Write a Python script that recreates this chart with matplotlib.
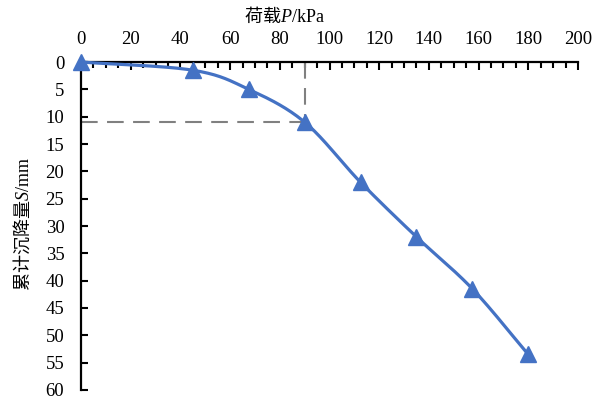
import numpy as np
import matplotlib
matplotlib.use("Agg")
import matplotlib.pyplot as plt
from matplotlib.ticker import MultipleLocator

plt.rcParams['font.family'] = ['Liberation Serif', 'Noto Sans CJK SC']
# mathtext: italic symbol and unit in the serif face
plt.rcParams['mathtext.fontset'] = 'custom'
plt.rcParams['mathtext.rm'] = 'Liberation Serif'
plt.rcParams['mathtext.it'] = 'Liberation Serif:italic'
plt.rcParams['mathtext.sf'] = 'Liberation Serif'

# load P (kPa) vs cumulative settlement S (mm)
load = [0, 45, 67.5, 90, 112.5, 135, 157.5, 180]
settle = [0, 1.5, 5, 11, 22, 32, 41.5, 53.5]
turn_p, turn_s = 90, 11

BLUE = "#4472C4"
GREY = "#808080"


def smooth(xs, ys, n=30):
    """Catmull-Rom curve through the points, like Excel's smoothed line."""
    pts = np.column_stack([xs, ys]).astype(float)
    pts = np.vstack([2 * pts[0] - pts[1], pts, 2 * pts[-1] - pts[-2]])
    out = []
    t = np.linspace(0, 1, n)[:, None]
    for i in range(1, len(pts) - 2):
        p0, p1, p2, p3 = pts[i - 1], pts[i], pts[i + 1], pts[i + 2]
        seg = 0.5 * ((2 * p1) + (-p0 + p2) * t
                     + (2 * p0 - 5 * p1 + 4 * p2 - p3) * t ** 2
                     + (-p0 + 3 * p1 - 3 * p2 + p3) * t ** 3)
        out.append(seg if i == 1 else seg[1:])
    out = np.vstack(out)
    return out[:, 0], out[:, 1]


fig = plt.figure(figsize=(6.12, 4.03), dpi=100)
ax = fig.add_axes([0.1324, 0.0323, 0.812, 0.8138])

sx, sy = smooth(load, settle)
ax.plot(sx, sy, color=BLUE, lw=2.3, clip_on=False, zorder=3)
ax.plot(load, settle, ls="none", marker="^", ms=11, color=BLUE,
        clip_on=False, zorder=4)

dash = (0, (8, 4.5))
ax.plot([turn_p, turn_p], [0, turn_s], color=GREY, lw=1.5, ls=dash, zorder=2)
ax.plot([0, turn_p], [turn_s, turn_s], color=GREY, lw=1.5, ls=dash, zorder=2)

ax.set_xlim(0, 200)
ax.set_ylim(60, 0)
ax.xaxis.tick_top()
ax.xaxis.set_major_locator(MultipleLocator(20))
ax.xaxis.set_minor_locator(MultipleLocator(5))
ax.yaxis.set_major_locator(MultipleLocator(5))

for s in ["right", "bottom"]:
    ax.spines[s].set_visible(False)
for s in ["top", "left"]:
    ax.spines[s].set_linewidth(1.6)

ax.tick_params(axis="x", which="major", direction="in", length=6, width=1.5,
               labelsize=13.5, pad=10)
ax.tick_params(axis="x", which="minor", direction="in", length=4, width=1.5)
ax.tick_params(axis="y", which="major", direction="in", length=5, width=1.5,
               labelsize=13.5, pad=12)

cjk = "Noto Sans CJK SC"
fig.text(284 / 612, 1 - 16 / 403, "荷载$\\it{P}\\mathsf{/kPa}$", ha="center", va="center",
         fontsize=13, family=cjk)
fig.text(22 / 612, 1 - 224 / 403, "累计沉降量$\\it{S}\\mathsf{/mm}$", ha="center", va="center",
         rotation=90, fontsize=13, family=cjk)

fig.savefig("out.png", dpi=100)
